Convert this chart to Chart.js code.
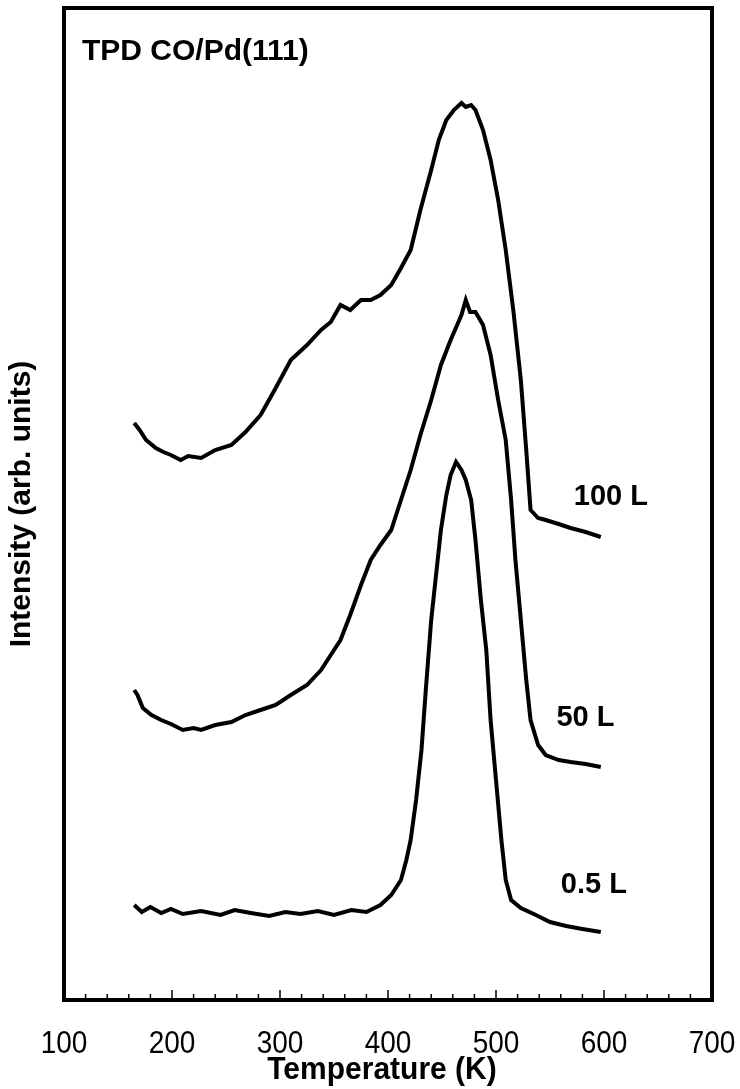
<!DOCTYPE html>
<html><head><meta charset="utf-8">
<script src="https://cdn.jsdelivr.net/npm/chart.js@4"></script>
<style>body{margin:0;background:#fff}#c{display:block}</style>
</head><body>
<div style="width:740px;height:1089px"><canvas id="c"></canvas></div>
<script>
// temperature (K) / intensity (arb.)
const t100 = [165,170,176,185,192,199,208,215,227,240,255,268,282,295,310,325,338,347,356,365,375,384,393,403,412,421,430,440,447,454,461,468,472,477,481,488,495,502,509,516,523,528,532,539,546,558,569,583,597]
const i100 = [577,570,560,552,548,545,540,544,542,550,555,568,585,610,640,655,670,678,695,690,700,700,705,715,732,750,790,830,860,880,890,897,893,895,890,870,840,800,750,690,620,550,490,482,480,476,472,468,463]
const t50 = [165,168,173,181,190,199,210,220,227,240,255,268,282,296,310,325,338,347,356,365,375,384,393,403,412,421,430,440,449,458,468,472,476,481,488,495,502,509,514,518,523,528,532,539,546,558,569,583,597]
const i50 = [310,305,292,285,280,276,270,272,270,275,278,285,290,295,305,315,330,345,360,385,415,440,455,470,500,530,565,600,635,660,685,700,688,688,675,645,600,560,500,440,380,320,280,255,245,240,238,236,233]
const t05 = [165,172,180,190,199,210,227,245,258,273,290,305,319,335,350,366,380,393,403,412,417,421,426,431,435,440,445,449,454,458,463,468,472,477,481,486,491,495,500,505,509,514,523,535,550,565,580,597]
const i05 = [95,88,93,87,91,86,89,85,90,87,84,88,86,89,85,90,88,95,105,120,140,160,200,250,310,380,430,470,505,525,538,530,520,500,460,400,350,280,220,160,120,100,92,86,78,74,71,68]

const curveLabels = [
  {text: '100 L', x: 572, y: 503},
  {text: '50 L', x: 556, y: 282},
  {text: '0.5 L', x: 560, y: 115}
]
const xTicks = [100, 200, 300, 400, 500, 600, 700]

const pts = (xs, ys) => xs.map((x, i) => ({x: x, y: ys[i]}))
const line = (label, xs, ys) => ({label: label, data: pts(xs, ys), borderColor: '#000', borderWidth: 4, pointRadius: 0, tension: 0, fill: false})

// draws text stretched vertically, like the source picture
function tallText(ctx, text, x, y, sy) {
  ctx.save()
  ctx.translate(x, y)
  ctx.scale(1, sy)
  ctx.fillText(text, 0, 0)
  ctx.restore()
}

const framePlugin = {
  id: 'frame',
  afterDraw(chart) {
    const {ctx, chartArea: a, scales: {x, y}} = chart
    ctx.save()
    ctx.strokeStyle = '#000'
    ctx.lineWidth = 1.5
    for (let v = 100; v <= 700; v += 20) {
      const px = x.getPixelForValue(v)
      const len = v % 100 === 0 ? 10 : 6
      ctx.beginPath(); ctx.moveTo(px, a.bottom); ctx.lineTo(px, a.bottom - len); ctx.stroke()
    }
    ctx.lineWidth = 4
    ctx.strokeRect(a.left, a.top, a.right - a.left, a.bottom - a.top)
    ctx.fillStyle = '#000'
    ctx.textBaseline = 'middle'
    ctx.font = 'bold 29px Arial, "Liberation Sans"'
    for (const l of curveLabels) ctx.fillText(l.text, x.getPixelForValue(l.x), y.getPixelForValue(l.y))
    ctx.font = 'bold 30px Arial, "Liberation Sans"'
    ctx.fillText('TPD CO/Pd(111)', a.left + 18, a.top + 44)
    // x tick labels and title
    ctx.textAlign = 'center'
    ctx.font = '28px Arial, "Liberation Sans"'
    for (const v of xTicks) tallText(ctx, String(v), x.getPixelForValue(v), a.bottom + 44, 1.12)
    ctx.font = 'bold 30px Arial, "Liberation Sans"'
    tallText(ctx, 'Temperature (K)', (a.left + a.right) / 2 - 6, a.bottom + 70, 1.05)
    ctx.restore()
  }
}

new Chart(document.getElementById('c'), {
  type: 'line',
  data: {datasets: [line('100 L', t100, i100), line('50 L', t50, i50), line('0.5 L', t05, i05)]},
  options: {
    responsive: true, maintainAspectRatio: false, animation: false,
    layout: {padding: {top: 8, right: 28, left: 4, bottom: 81}},
    plugins: {legend: {display: false}, tooltip: {enabled: false}},
    scales: {
      x: {
        type: 'linear', min: 100, max: 700,
        afterBuildTicks: s => { s.ticks = xTicks.map(v => ({value: v})) },
        grid: {display: false}, border: {display: false},
        ticks: {display: false}
      },
      y: {
        min: 0, max: 992,
        grid: {display: false}, border: {display: false},
        ticks: {display: false},
        title: {display: true, text: 'Intensity (arb. units)', color: '#000', font: {size: 30, weight: 'bold', family: 'Arial, "Liberation Sans"'}, padding: {top: 0, bottom: 16}}
      }
    }
  },
  plugins: [framePlugin]
})
</script>
</body></html>
